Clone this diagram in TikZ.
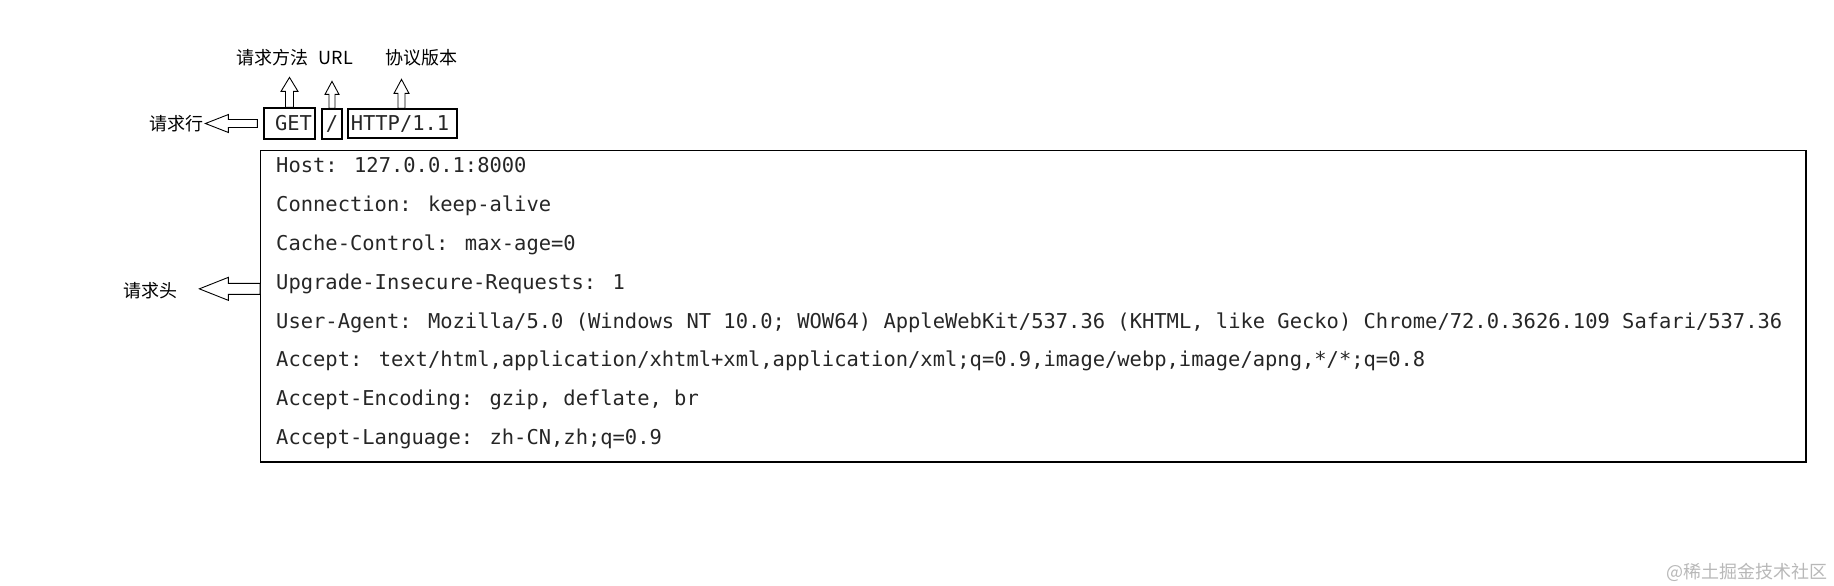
\documentclass[tikz,border=0pt]{standalone}
\usepackage{fontspec}
\newfontfamily\cjk{Noto Sans CJK SC}
\newfontfamily\mono{DejaVu Sans Mono}
\begin{document}
\begin{tikzpicture}[x=1pt,y=-1pt,
  lbl/.style={font=\cjk\fontsize{18}{20}\selectfont, inner sep=0pt},
  codeline/.style={font=\mono\fontsize{20.45}{24}\selectfont, inner sep=0pt, anchor=base west, text=black!85},
  keybox/.style={draw, line width=1.2pt, inner sep=0pt, font=\mono\fontsize{20.45}{24}\selectfont, text=black!85},
  blockarrow/.style={draw, line width=0.9pt, fill=white, line join=miter}]
\useasboundingbox (0,0) rectangle (1834,586);

% request line boxes
\node[keybox, minimum width=51pt, minimum height=31pt] (get) at (289.5,123.5) {\hspace{8pt}GET};
\node[keybox, minimum width=20pt, minimum height=30pt] (url) at (332,124) {/};
\node[keybox, minimum width=109pt, minimum height=29pt] (ver) at (402.5,123.5) {\hspace{-5pt}HTTP/1.1};

% labels above
\node[lbl] (lmethod) at (272,57.5) {请求方法};
\node[lbl] (lurl) at (336,58.5) {URL};
\node[lbl] (lver) at (421,57.5) {协议版本};

% up block arrows
\draw[blockarrow] ([xshift=-4pt]get.north) -- ++(0,-16) -- ++(-4.5,0) -- ++(8.5,-14) -- ++(8.5,14) -- ++(-4.5,0) -- ++(0,16) -- cycle;
\draw[blockarrow] ([xshift=-3pt]url.north) -- ++(0,-14) -- ++(-4,0) -- ++(7,-13) -- ++(7,13) -- ++(-4,0) -- ++(0,14) -- cycle;
\draw[blockarrow] ([xshift=-4.5pt]ver.north) -- ++(0,-15) -- ++(-4,0) -- ++(7.5,-14) -- ++(7.5,14) -- ++(-4,0) -- ++(0,15) -- cycle;

% request line label + arrow
\node[lbl] (lline) at (176.5,123.5) {请求行};
\draw[blockarrow] ([shift={(-6,-4)}]get.west) -- ++(-29,0) -- ++(0,-5) -- ++(-23,9) -- ++(23,9) -- ++(0,-5) -- ++(29,0) -- cycle;

% header box
\node[draw, line width=1.3pt, minimum width=1545.3pt, minimum height=311.3pt, inner sep=0pt] (hdr) at (1033.35,306.35) {};

\node[codeline] (h1) at (276,172) {Host: 127.0.0.1:8000};
\node[codeline] (h2) at (276,211) {Connection: keep-alive};
\node[codeline] (h3) at (276,250) {Cache-Control: max-age=0};
\node[codeline] (h4) at (276,289) {Upgrade-Insecure-Requests: 1};
\node[codeline] (h5) at (276,328) {User-Agent: Mozilla/5.0 (Windows NT 10.0; WOW64) AppleWebKit/537.36 (KHTML, like Gecko) Chrome/72.0.3626.109 Safari/537.36};
\node[codeline] (h6) at (276,366) {Accept: text/html,application/xhtml+xml,application/xml;q=0.9,image/webp,image/apng,*/*;q=0.8};
\node[codeline] (h7) at (276,405) {Accept-Encoding: gzip, deflate, br};
\node[codeline] (h8) at (276,444) {Accept-Language: zh-CN,zh;q=0.9};

% header label + arrow
\node[lbl] (lhdr) at (150,290.5) {请求头};
\coordinate (ha) at ([yshift=18pt]hdr.west);
\draw[blockarrow] ([yshift=5pt]ha) -- ++(-31.7,0) -- ++(0,-6) -- ++(-29,11.5) -- ++(29,11.5) -- ++(0,-6) -- ++(31.7,0) -- cycle;

% watermark
\node[font=\cjk\fontsize{18}{20}\selectfont, text=black!28, inner sep=0pt] (wm) at (1746.5,572) {@稀土掘金技术社区};
\end{tikzpicture}
\end{document}
